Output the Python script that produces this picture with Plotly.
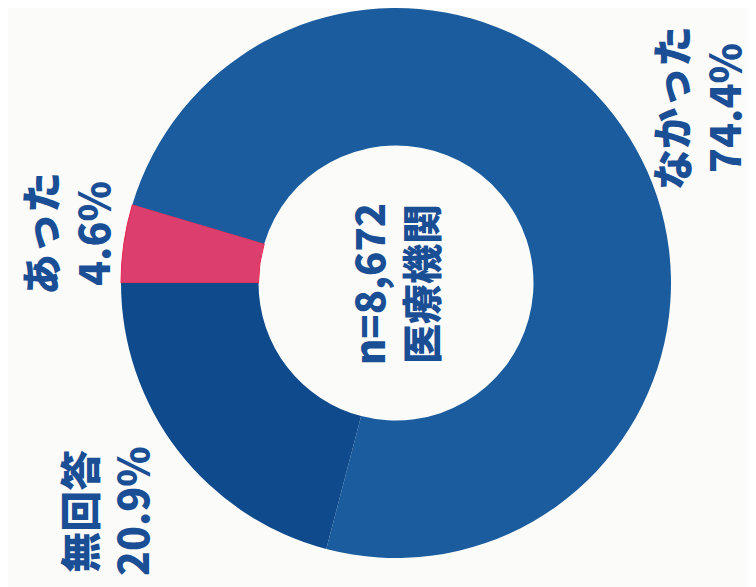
import plotly.graph_objects as go

# values (clockwise from 9 o'clock)
labels = ['あった', 'なかった', '無回答']
shares = [4.6, 74.4, 20.9]
colors = ['#dc3f6d', '#1a5c9e', '#0f4a8c']
center_text = 'n=8,672<br>医療機関'

W, H = 756, 587
cx, cy, r = 388, 275, 275
text_color = '#1a4f95'

fig = go.Figure()

fig.add_trace(go.Pie(
    labels=labels,
    values=shares,
    hole=0.5,
    sort=False,
    direction='clockwise',
    rotation=270,
    marker=dict(colors=colors,
                line=dict(color=['#e8234f', 'rgba(0,0,0,0)', 'rgba(0,0,0,0)'],
                          width=[1, 0, 0])),
    textinfo='none',
    hoverinfo='label+percent',
    showlegend=False,
    domain=dict(x=[(cx - r) / W, (cx + r) / W],
                y=[max(0, (H - cy - r) / H), min(1, (H - cy + r) / H)])
))

# label positions in pixels (chart is rotated, text runs bottom to top)
label_pos = [(57, 226), (688, 100), (96, 503)]
for lab, val, (px, py) in zip(labels, shares, label_pos):
    fig.add_annotation(
        x=px / W, y=1 - py / H, xref='paper', yref='paper',
        text=f'{lab}<br>{val}%', showarrow=False, textangle=-90,
        xanchor='center', yanchor='middle',
        font=dict(family='Noto Sans CJK JP', size=41, color=text_color, weight=900)
    )

fig.add_annotation(
    x=386 / W, y=1 - 276 / H, xref='paper', yref='paper',
    text=center_text, showarrow=False, textangle=-90,
    xanchor='center', yanchor='middle',
    font=dict(family='Noto Sans CJK JP', size=40, color=text_color, weight=900)
)

fig.update_layout(
    width=W, height=H,
    margin=dict(l=0, r=0, t=0, b=0),
    paper_bgcolor='#fbfcf9',
    plot_bgcolor='#fbfcf9'
)

fig.write_html('out.html')
